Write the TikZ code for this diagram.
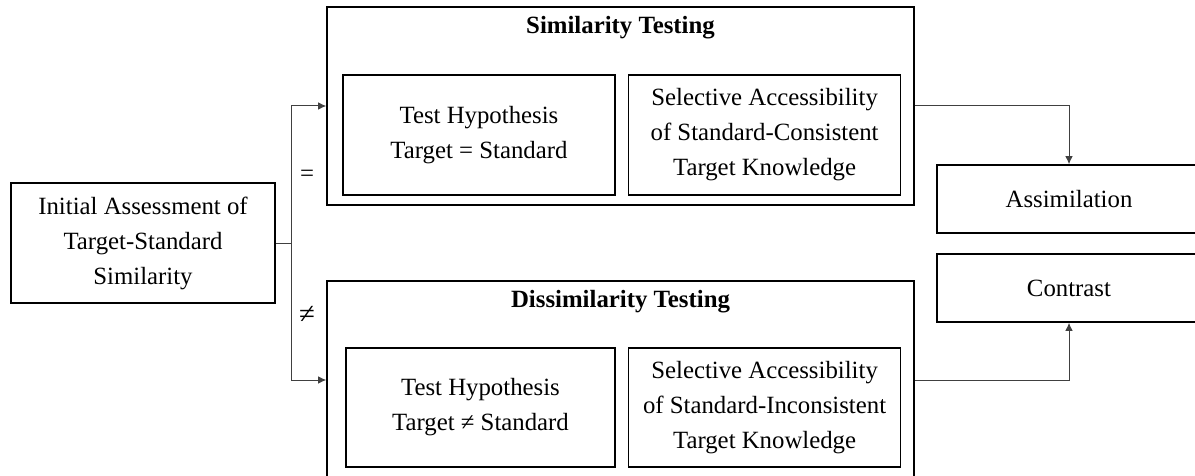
\documentclass[tikz,border=0pt]{standalone}
\usepackage{fontspec}
\setmainfont{Liberation Serif}
\usetikzlibrary{positioning,arrows.meta}

\begin{document}
\fontsize{12.4}{17.5}\selectfont
\begin{tikzpicture}[x=0.5pt, y=-0.5pt,
    box/.style={draw, line width=0.8pt, align=center, inner sep=0pt},
    outer/.style={box, minimum width=293.5pt, minimum height=99pt},
    inner/.style={box, minimum width=136pt, minimum height=60pt},
    result/.style={box, minimum width=132pt, minimum height=34pt},
    title/.style={font=\bfseries, inner sep=0pt},
    link/.style={line width=0.5pt, draw=black!75, -{Latex[length=4pt,width=3.8pt]}}]
        \useasboundingbox (0,0) rectangle (1195,476);

        \node[box, minimum width=132pt, minimum height=60pt] (init) at (143,243) {Initial Assessment of\\Target-Standard\\Similarity};

        % similarity branch
        \node[outer] (sim) at (620.5,106) {};
        \node[title] (simtitle) at ([yshift=-10.5pt]sim.north) {Similarity Testing};
        \node[inner] (simhyp) at (479,135) {Test Hypothesis\\Target = Standard};
        \node[inner, right=6pt of simhyp] (simsel) {Selective Accessibility\\of Standard-Consistent\\Target Knowledge};

        % dissimilarity branch
        \node[outer] (dis) at (620.5,380) {};
        \node[title] (distitle) at ([yshift=-10.5pt]dis.north) {Dissimilarity Testing};
        \node[inner, minimum width=134.5pt, minimum height=59.5pt] (dishyp) at (480.5,407.5) {Test Hypothesis\\Target ≠ Standard};
        \node[inner, minimum height=59.5pt, right=6pt of dishyp] (dissel) {Selective Accessibility\\of Standard-Inconsistent\\Target Knowledge};

        \node[result] (assim) at (1069,199) {Assimilation};
        \node[result] (contrast) at (1069,288) {Contrast};

        \node (eq) at (307,176) {=};
        \node[font=\Large] (ne) at (307,315) {≠};

        \draw[link] (init.east) -- ++(16,0) |- (sim.west);
        \draw[link] (init.east) -- ++(16,0) |- (dis.west);
        \draw[link] (sim.east) -| (assim.north);
        \draw[link] (dis.east) -| (contrast.south);
\end{tikzpicture}
\end{document}
